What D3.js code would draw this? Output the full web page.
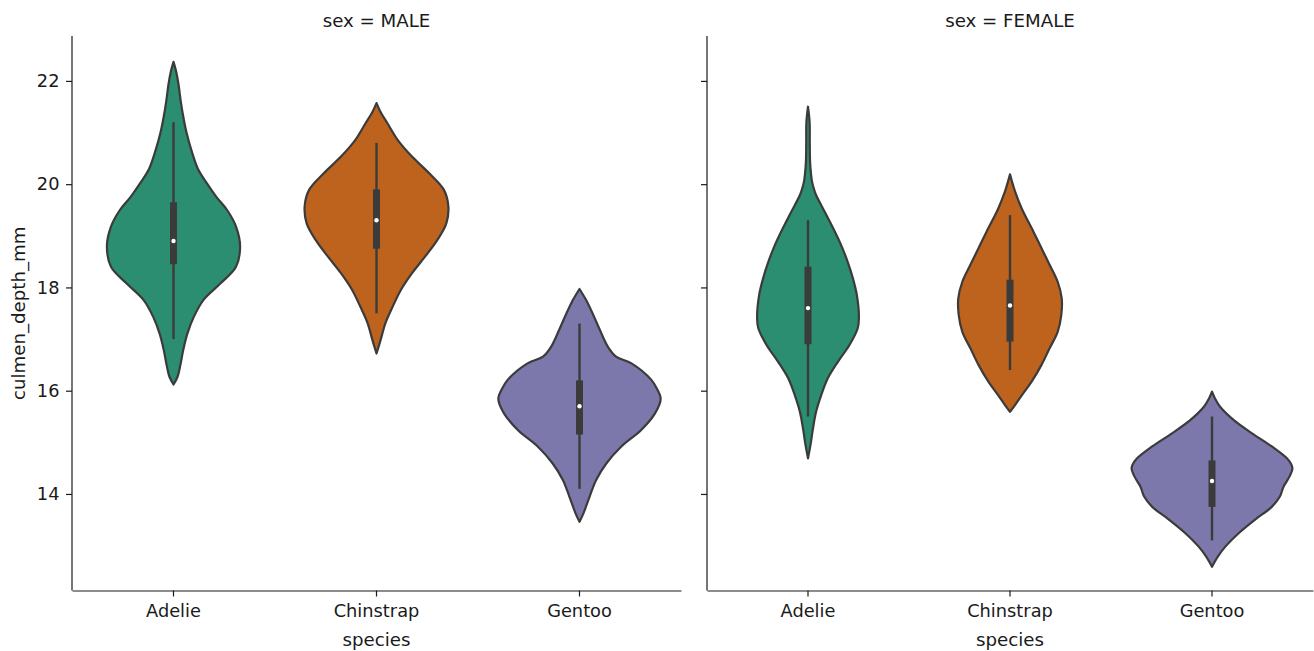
<!DOCTYPE html>
<html>
<head>
<meta charset="utf-8">
<script src="https://cdn.jsdelivr.net/npm/d3@7"></script>
<style>
  body { margin: 0; background: #fff; }
  svg { display: block; }
  text { font-family: "DejaVu Sans", sans-serif; fill: #1a1a1a; }
</style>
</head>
<body>
<svg id="chart" width="1314" height="651"></svg>
<script>
// ---- data -------------------------------------------------------------
const species = ["Adelie", "Chinstrap", "Gentoo"];
const sexes = ["MALE", "FEMALE"];
const yTicks = [14, 16, 18, 20, 22];
const speciesColors = ["#2b8e70", "#be631d", "#7c78ab"];

// box summaries per species: [whisker low, Q1, median, Q3, whisker high]
const maleStats = [
  [17.0, 18.45, 18.9, 19.65, 21.2],
  [17.5, 18.75, 19.3, 19.9, 20.8],
  [14.1, 15.15, 15.7, 16.2, 17.3]
];
const femaleStats = [
  [15.5, 16.9, 17.6, 18.4, 19.3],
  [16.4, 16.95, 17.65, 18.15, 19.4],
  [13.1, 13.75, 14.25, 14.65, 15.5]
];

// kernel density profiles: [culmen depth, relative density]
const maleAdelieDensity = [
  [22.37, 0], [22.2, 0.03], [21.95, 0.06], [21.6, 0.09], [21.31, 0.12],
  [21.0, 0.16], [20.66, 0.22], [20.3, 0.3], [20.02, 0.41], [19.75, 0.53],
  [19.5, 0.66], [19.18, 0.77], [18.8, 0.82], [18.4, 0.77], [18.08, 0.58],
  [17.76, 0.37], [17.43, 0.25], [17.1, 0.17], [16.79, 0.12], [16.5, 0.085],
  [16.27, 0.05], [16.12, 0]
];
const maleChinstrapDensity = [
  [21.57, 0], [21.4, 0.05], [21.18, 0.135], [20.86, 0.26], [20.53, 0.44],
  [20.21, 0.65], [19.89, 0.83], [19.57, 0.885], [19.24, 0.86], [18.92, 0.75],
  [18.6, 0.6], [18.28, 0.44], [17.95, 0.3], [17.63, 0.2], [17.31, 0.11],
  [16.98, 0.05], [16.72, 0]
];
const maleGentooDensity = [
  [17.97, 0], [17.76, 0.08], [17.5, 0.16], [17.18, 0.25], [16.85, 0.35],
  [16.66, 0.45], [16.53, 0.64], [16.21, 0.885], [16.02, 0.96], [15.85, 1.0],
  [15.56, 0.93], [15.24, 0.76], [14.92, 0.515], [14.59, 0.33], [14.27, 0.205],
  [13.95, 0.125], [13.63, 0.05], [13.46, 0]
];
const femaleAdelieDensity = [
  [21.5, 0], [21.2, 0.02], [20.8, 0.022], [20.4, 0.027], [20.05, 0.05],
  [19.9, 0.075], [19.79, 0.1], [19.47, 0.205], [19.15, 0.31], [18.82, 0.41],
  [18.5, 0.49], [18.18, 0.555], [17.85, 0.605], [17.4, 0.63], [17.21, 0.615],
  [16.89, 0.515], [16.56, 0.37], [16.24, 0.245], [15.92, 0.165], [15.59, 0.1],
  [15.27, 0.062], [14.95, 0.031], [14.69, 0]
];
const femaleChinstrapDensity = [
  [20.19, 0], [20.05, 0.025], [19.86, 0.062], [19.53, 0.145], [19.08, 0.29],
  [18.76, 0.39], [18.44, 0.49], [18.11, 0.59], [17.79, 0.64], [17.47, 0.635],
  [17.14, 0.59], [16.82, 0.49], [16.5, 0.39], [16.18, 0.27], [15.92, 0.15],
  [15.72, 0.062], [15.59, 0]
];
const femaleGentooDensity = [
  [15.98, 0], [15.85, 0.037], [15.69, 0.1], [15.43, 0.27], [15.18, 0.49],
  [14.92, 0.74], [14.66, 0.945], [14.5, 0.995], [14.34, 0.96], [14.14, 0.885],
  [13.95, 0.84], [13.75, 0.74], [13.5, 0.53], [13.24, 0.33], [12.98, 0.165],
  [12.79, 0.074], [12.59, 0]
];

const panels = [
  { sex: "MALE", stats: maleStats,
    densities: [maleAdelieDensity, maleChinstrapDensity, maleGentooDensity] },
  { sex: "FEMALE", stats: femaleStats,
    densities: [femaleAdelieDensity, femaleChinstrapDensity, femaleGentooDensity] }
];

// ---- layout -----------------------------------------------------------
const svg = d3.select("#chart");
const tickFont = 17.8, labelFont = 18.2;
const plotTop = 36, plotBottom = 590.5;
const panelX = [[72, 681], [707, 1313]];
const edge = "#3b3b3b";

const y = d3.scaleLinear().domain([12.13, 22.87]).range([plotBottom, plotTop]);

panels.forEach((p, pi) => {
  const [x0, x1] = panelX[pi];
  const x = d3.scaleBand().domain(species).range([x0, x1]).padding(0);
  const w = d3.scaleLinear().domain([0, 1]).range([0, x.bandwidth() * 0.4]);
  const g = svg.append("g");

  // violins
  species.forEach((s, si) => {
    const cx = x(s) + x.bandwidth() / 2;
    const area = d3.area()
      .curve(d3.curveCatmullRom.alpha(0.5))
      .y(d => y(d[0]))
      .x0(d => cx - w(d[1]))
      .x1(d => cx + w(d[1]));
    g.append("path")
      .datum(p.densities[si])
      .attr("d", area)
      .attr("fill", speciesColors[si])
      .attr("stroke", edge)
      .attr("stroke-width", 2.2)
      .attr("stroke-linejoin", "round");

    const [lo, q1, med, q3, hi] = p.stats[si];
    g.append("line")
      .attr("x1", cx).attr("x2", cx)
      .attr("y1", y(lo)).attr("y2", y(hi))
      .attr("stroke", edge).attr("stroke-width", 2.4);
    g.append("line")
      .attr("x1", cx).attr("x2", cx)
      .attr("y1", y(q1)).attr("y2", y(q3))
      .attr("stroke", edge).attr("stroke-width", 7);
    g.append("circle")
      .attr("cx", cx).attr("cy", y(med)).attr("r", 2.2)
      .attr("fill", "#fff");
  });

  // axes
  const yAxis = d3.axisLeft(y).tickValues(yTicks).tickSize(6).tickPadding(6.5)
    .tickSizeOuter(0);
  if (pi > 0) yAxis.tickFormat("");
  const ya = g.append("g").attr("transform", `translate(${x0},0)`).call(yAxis);
  ya.select(".domain").attr("d", `M0,${plotTop}V${plotBottom}`);

  const xAxis = d3.axisBottom(x).tickSize(6).tickPadding(7.5).tickSizeOuter(0);
  const xa = g.append("g").attr("transform", `translate(0,${plotBottom})`).call(xAxis);

  [ya, xa].forEach(a => {
    a.selectAll(".domain").attr("stroke", "#1a1a1a").attr("stroke-width", 1.2);
    a.selectAll(".tick line").attr("stroke", "#1a1a1a").attr("stroke-width", 1.2);
    a.selectAll("text").style("font-size", tickFont + "px")
      .style("font-family", "DejaVu Sans, sans-serif").attr("fill", "#1a1a1a");
  });

  // facet title
  g.append("text")
    .attr("x", (x0 + x1) / 2).attr("y", 26.5)
    .attr("text-anchor", "middle")
    .style("font-size", labelFont + "px")
    .text(`sex = ${p.sex}`);

  // x axis label
  g.append("text")
    .attr("x", (x0 + x1) / 2).attr("y", 645.5)
    .attr("text-anchor", "middle")
    .style("font-size", labelFont + "px")
    .text("species");
});

// y axis label
svg.append("text")
  .attr("transform", `translate(25,${(plotTop + plotBottom) / 2}) rotate(-90)`)
  .attr("text-anchor", "middle")
  .style("font-size", labelFont + "px")
  .text("culmen_depth_mm");
</script>
</body>
</html>
